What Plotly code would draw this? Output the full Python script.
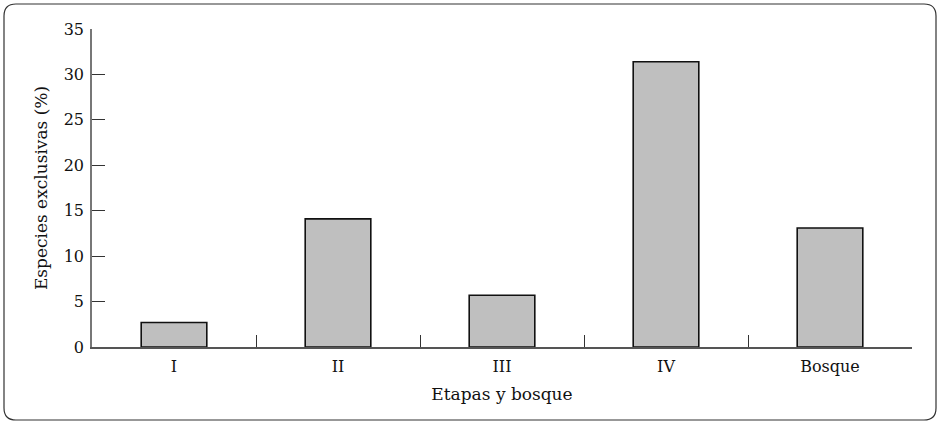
import plotly.graph_objects as go

categories = ["I", "II", "III", "IV", "Bosque"]
values = [2.7, 14.1, 5.7, 31.4, 13.1]
y_ticks = [0, 5, 10, 15, 20, 25, 30, 35]

W, H = 940, 424
L, R, T, B = 92, 28, 29, 77
pw, ph = W - L - R, H - T - B

fig = go.Figure(go.Bar(
    x=categories, y=values, width=0.4,
    marker=dict(color="#bfbfbf", line=dict(color="#111111", width=1.6)),
))

font = "DejaVu Serif"

def px(x):
    return (x - L) / pw

def py(y):
    return (H - B - y) / ph

x0, x1, y0, y1, r = 4, 936, 4, 420, 12
path = (f"M {px(x0 + r)} {py(y0)} L {px(x1 - r)} {py(y0)} "
        f"Q {px(x1)} {py(y0)} {px(x1)} {py(y0 + r)} "
        f"L {px(x1)} {py(y1 - r)} Q {px(x1)} {py(y1)} {px(x1 - r)} {py(y1)} "
        f"L {px(x0 + r)} {py(y1)} Q {px(x0)} {py(y1)} {px(x0)} {py(y1 - r)} "
        f"L {px(x0)} {py(y0 + r)} Q {px(x0)} {py(y0)} {px(x0 + r)} {py(y0)} Z")

fig.update_layout(
    width=W, height=H,
    margin=dict(l=L, r=R, t=T, b=B, autoexpand=False),
    paper_bgcolor="white", plot_bgcolor="white",
    showlegend=False,
    font=dict(family=font, size=16, color="#111111"),
    xaxis=dict(
        type="category", showline=True, linecolor="#555555", linewidth=1.5,
        ticks="inside", tickson="boundaries", ticklen=12, tickcolor="#333333",
        tickfont=dict(family=font, size=16), showgrid=False, ticklabelstandoff=4,
        title=dict(text="Etapas y bosque", font=dict(family=font, size=17), standoff=13),
    ),
    yaxis=dict(
        range=[0, 35], tickvals=y_ticks, showline=True, linecolor="#777777", linewidth=1.5,
        ticks="inside", ticklen=13, tickcolor="#333333", showgrid=False, zeroline=False,
        tickfont=dict(family=font, size=16), ticklabelstandoff=3,
        title=dict(text="Especies exclusivas (%)", font=dict(family=font, size=17), standoff=12),
    ),
    shapes=[dict(type="path", xref="paper", yref="paper", path=path,
                 line=dict(color="#333333", width=1.2), fillcolor="rgba(0,0,0,0)", layer="below")],
)

fig.write_html("out.html", config={"displayModeBar": False},
               post_script="document.body.style.margin='0px';")
